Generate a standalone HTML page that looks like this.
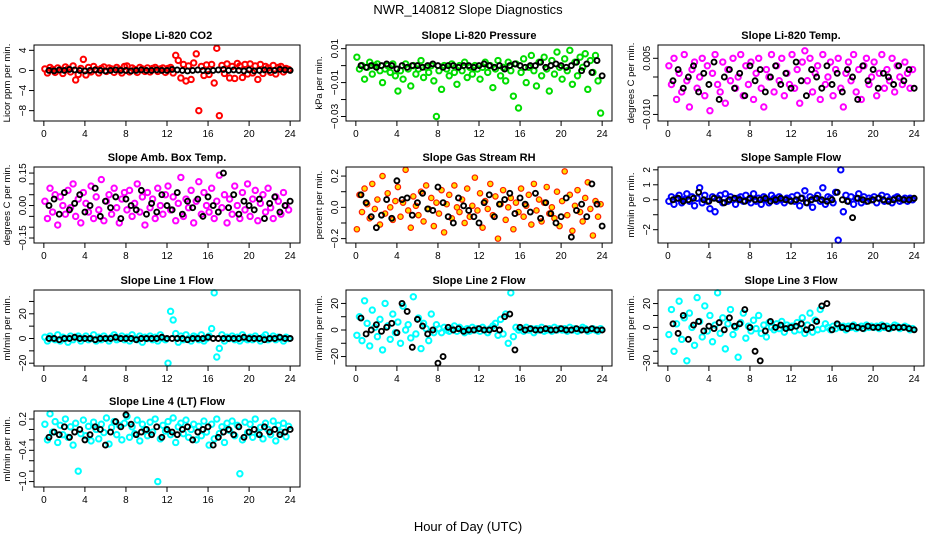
<!DOCTYPE html>
<html><head><meta charset="utf-8"><style>
body{margin:0;background:#fff;}
svg{display:block;font-family:"Liberation Sans",sans-serif;}
</style></head><body>
<svg id="c" width="936" height="540" xmlns="http://www.w3.org/2000/svg">
<text x="468" y="14" font-size="13" text-anchor="middle">NWR_140812  Slope Diagnostics</text>
<text x="468" y="531" font-size="13" text-anchor="middle">Hour of Day (UTC)</text>
</svg>
<script>
const xTicks=[0,4,8,12,16,20,24];
const titles=["Slope Li-820 CO2","Slope Li-820 Pressure","Slope Li-820 Temp.","Slope Amb. Box Temp.","Slope Gas Stream RH","Slope Sample Flow","Slope Line 1 Flow","Slope Line 2 Flow","Slope Line 3 Flow","Slope Line 4 (LT) Flow"];
const yLabels=["Licor ppm per min.","kPa per min.","degrees C per min.","degrees C per min.","percent per min.","ml/min per min.","ml/min per min.","ml/min per min.","ml/min per min.","ml/min per min."];
const yTicks=[[-8,-4,0,4],[-0.03,-0.02,-0.01,0,0.01],[-0.010,-0.005,0.000,0.005],[-0.15,-0.10,-0.05,0.00,0.05,0.10,0.15],[-0.2,-0.1,0,0.1,0.2],[-2,-1,0,1,2],[-20,-10,0,10,20,30],[-20,-10,0,10,20],[-30,-20,-10,0,10,20],[-1.0,-0.8,-0.6,-0.4,-0.2,0.0,0.2]];
const yTickLabels=[["−8","−4","0","4"],["−0.03","","−0.01","","0.01"],["−0.010","","","0.005"],["−0.15","","","0.00","","","0.15"],["−0.2","","0.0","","0.2"],["−2","","0","1","2"],["−20","","0","","20",""],["−20","","0","","20"],["−30","","","0","","20"],["−1.0","","","−0.4","","","0.2"]];
const yRange=[[-9.5,4.5],[-0.031,0.0105],[-0.011,0.0078],[-0.16,0.165],[-0.21,0.24],[-2.7,2.0],[-20,37],[-25,28],[-30,29],[-1.05,0.3]];
const colors=["#ff0000","#00dd00","#ff00ff","#ff00ff","#ff2000","#0000ff","#00ffff","#00ffff","#00ffff","#00ffff"];
const scaleC=[1,0.001,0.001,0.01,0.01,0.1,1,1,1,0.01];
const colored=[
[0.3,-0.5,0.6,0.2,-0.4,0.5,0.1,-0.6,0.7,0.3,-0.3,0.9,-1.9,-0.8,0.4,2.2,-0.9,0.6,-0.3,0.8,0.2,-0.5,0.4,0.7,-0.2,0.5,0.3,-0.4,0.6,0.2,-0.5,0.8,0.9,-0.3,0.5,0.2,-0.4,0.6,0.3,-0.2,0.5,-0.3,0.4,0.6,-0.2,0.3,0.5,-0.4,0.4,0.6,-0.5,3.0,2.0,-1.5,1.2,-2.1,0.9,-1.8,1.5,3.3,-8.0,0.8,-1.0,1.1,-0.8,1.2,-2.5,4.4,-9.0,1.0,-0.6,1.3,-1.5,0.8,-1.6,1.4,0.9,-1.4,1.2,-0.7,1.3,-0.5,0.9,-1.8,1.2,-0.6,0.8,0.5,-0.4,1.0,-0.7,0.6,0.8,-0.3,0.4,0.2],
[5,-2,0,-8,-1,2,-5,0,1,-3,-10,-2,0,-4,1,-6,-15,-3,-8,1,-2,-12,0,-5,-2,3,-7,-1,-4,0,-9,-30,-3,-14,0,-2,-6,1,-4,-11,0,-3,2,-7,-1,-5,0,-2,-8,-1,2,-4,0,-13,-2,3,-6,-1,-9,2,-3,-18,1,-25,-4,4,-10,-1,6,-3,-12,2,-6,5,-2,-15,3,-5,8,-1,-8,4,-3,9,-11,2,-6,5,-1,7,-14,3,-4,6,-9,-28],
[3,-2,5,-6,1,-4,6,-1,-8,2,4,-3,0,5,-5,3,-9,1,6,-2,-4,4,-7,2,-1,5,-3,0,6,-5,3,-2,4,-6,1,5,-3,-8,2,0,6,-4,3,-1,5,-5,1,-2,6,-3,2,-7,4,7,-1,5,-4,1,3,-6,6,-2,0,4,-5,2,5,-3,-8,1,4,-1,6,-4,2,-6,3,5,-2,0,4,-5,1,6,-3,2,-1,5,-4,3,0,-2,4,1,-3,2],
[2,-6,8,-3,5,-9,4,0,-4,7,-1,10,-5,3,-8,6,1,-3,9,-6,4,-2,12,-7,2,5,-4,8,-1,-8,3,6,-2,7,-5,1,10,-3,4,-9,6,-1,3,-6,8,0,-4,5,9,-2,4,-7,1,13,-5,3,-1,7,-8,2,11,-4,6,0,-3,8,-6,2,14,-1,5,-8,3,-4,9,0,-6,6,-2,10,-5,3,7,-7,1,5,-3,8,-1,-6,4,2,-4,6,0,-2],
[-14,8,-3,12,2,-7,15,-1,5,-11,20,-4,9,0,-8,4,13,-6,3,24,-2,-13,7,1,-5,10,-9,14,-1,6,-12,3,-4,11,-16,2,8,-7,14,0,-3,5,-10,12,-6,1,19,-2,9,-13,4,-1,15,-5,7,-20,2,11,-8,0,6,-14,3,-3,12,-6,1,8,-11,15,-2,5,-9,3,13,-4,0,-7,10,-12,4,23,-5,8,-15,1,11,-3,-9,6,16,-1,-18,4,-6,2],
[-1,2,-3,1,3,-2,0,4,-1,2,-4,1,8,-2,3,-1,-6,2,-8,1,3,-2,4,-1,2,0,-3,1,2,-1,3,0,-2,4,-1,1,-3,2,0,-2,3,1,-1,2,0,-2,1,0,2,-1,3,-4,1,6,-2,2,-5,1,3,-1,8,-3,2,1,-2,5,-27,20,-8,3,-1,2,-3,1,4,-2,2,-1,1,0,2,-2,1,3,-1,2,0,-2,1,2,-1,0,1,-1,1,0],
[1,-2,2,0,-1,3,-2,1,0,-3,2,-1,1,2,-2,0,2,-1,0,3,-2,1,-1,2,0,-2,1,3,-1,0,2,-1,1,-2,3,0,-1,2,-3,1,0,2,-1,1,-2,3,0,-1,-20,22,15,4,-3,2,-1,3,0,-2,2,1,-1,3,-2,0,2,8,37,-15,-8,3,-2,1,0,2,-1,1,-2,3,0,-1,1,-1,2,0,-2,1,3,-1,0,2,-1,1,0,-2,1,0],
[-4,10,-8,22,5,-12,15,2,-5,8,-15,20,3,-7,12,-2,6,-10,18,0,4,-6,25,-3,9,-14,5,1,-8,12,-2,4,1,-2,2,0,-1,1,3,-1,2,0,-2,1,-1,2,0,1,-1,2,0,-2,1,3,5,-4,8,-3,12,-10,28,-5,2,0,1,-1,2,0,1,-2,1,0,2,-1,0,1,-1,2,0,1,0,1,-1,2,0,1,-1,0,2,1,-1,0,1,0,-1,1],
[-6,15,-20,3,22,-10,8,-28,12,0,-15,25,5,-8,18,-3,10,-12,2,29,-5,8,-18,3,15,-6,0,-25,4,12,-9,1,-3,6,-1,10,-5,2,-8,4,0,-2,3,-1,5,-4,2,0,1,-3,4,-2,8,-5,2,12,-4,6,-2,15,-1,3,0,-2,1,-1,2,0,1,-2,1,0,2,-1,0,1,-1,2,0,1,0,1,-1,2,0,1,-1,0,2,1,-1,0,1,0,-2,-1],
[10,-20,30,-5,15,-25,8,-10,20,-15,5,-30,12,-80,-8,18,-12,6,-22,14,0,-18,10,-6,22,-28,4,15,-10,8,-20,12,25,-15,5,-8,18,-22,10,0,-12,14,-5,20,-100,-18,8,-3,15,-10,22,-25,5,12,-8,18,-15,0,10,-20,6,-12,16,-5,-30,10,-18,20,-8,5,-25,12,-2,16,-12,8,-85,-20,14,-6,10,-15,20,-8,4,-18,12,0,-10,16,-22,8,-5,12,-14,6]
];
const black=[
[0,-0.1,0.1,0,0.2,0.1,0,-0.1,0,0.1,0,-0.1,0,0.1,0,0,-0.1,0,0.1,0,0,0.1,0,0,0.2,0.1,0,-0.1,0,0.1,0,-0.1,0,0.1,0.2,0,0.1,0,-0.1,0.1,-0.1,0,0.1,0,0,0.2,0.1,0],
[0,-1,0,-1,0,1,0,-2,0,-1,0,0,-1,0,1,0,-1,0,0,-1,0,0,-1,0,1,0,-1,0,-2,0,1,0,-1,0,0,2,-1,0,1,0,-1,0,2,-3,1,-4,3,-6],
[-1,2,-3,0,3,-4,1,-2,4,-6,0,2,-3,1,-5,3,-1,2,-4,0,3,-2,1,-3,4,-1,-5,2,0,-3,3,-2,1,-4,2,0,-6,3,-1,2,-3,1,0,-2,3,-1,2,-3],
[0,3,-4,6,-2,1,5,-3,0,8,-5,2,-1,4,-6,3,0,-2,7,-4,1,-3,5,0,-2,6,-4,2,-1,3,-5,4,0,-3,15,-1,5,-4,2,0,-2,3,-6,1,4,-3,0,2],
[8,3,-6,-13,-5,5,-7,17,5,6,-5,3,9,-1,-2,13,3,-6,-10,6,1,-2,-6,-10,3,8,-6,2,5,9,-4,6,2,-3,9,-7,3,-4,-10,-6,6,-19,-2,2,-6,15,2,-12],
[0,1,-1,0,1,5,0,-1,1,0,-2,0,1,0,-1,1,0,0,1,-1,0,1,0,-1,0,1,-2,0,1,0,-1,0,5,0,-1,-12,1,0,-1,0,1,0,-1,0,1,0,0,1],
[0,0,-1,0,0,1,0,0,0,-1,0,0,0,1,0,0,0,-1,0,0,0,0,1,0,0,0,0,-1,0,0,0,1,0,0,0,0,0,0,1,0,0,0,-1,0,0,1,0,0],
[9,-3,0,4,-1,2,5,-2,20,14,-13,8,3,-3,0,-25,-20,2,0,1,-1,0,0,1,0,0,1,0,10,12,-15,2,0,1,0,0,1,0,0,1,0,0,1,0,0,1,0,0],
[3,-5,10,-10,2,5,-3,1,-1,4,-2,8,1,3,15,0,-20,-28,-3,5,0,2,-1,0,1,3,-2,0,5,18,20,-2,3,0,-1,1,0,-1,1,0,0,1,-1,0,0,0,-1,-2],
[-15,-5,-10,5,-15,-5,0,-20,-10,5,0,-30,-5,15,5,28,10,-10,-5,0,-10,5,-15,0,-5,-10,0,5,-20,-5,0,5,-30,-15,-5,0,-10,5,-15,-5,0,-10,5,-5,0,-10,-5,0]
];
const NS="http://www.w3.org/2000/svg";
const svg=document.getElementById('c');
const colL=[34,346,658], rowT=[45,167,290,411], W=266, H=76;
function mk(tag,attrs,parent){const e=document.createElementNS(NS,tag);for(const k in attrs)e.setAttribute(k,attrs[k]);parent.appendChild(e);return e;}
titles.forEach((t,p)=>{
  const L=colL[p%3], T=rowT[Math.floor(p/3)];
  const g=mk('g',{},svg);
  
  
  const [y0,y1]=yRange[p]; const yp=(y1-y0)*0.04;
  const X=v=>L+(v+0.96)/25.92*W;
  const Y=v=>T+H-(v-(y0-yp))/((y1-y0)*1.08)*H;
  const tt=mk('text',{x:L+W/2,y:T-6,'font-size':11,'font-weight':'bold','text-anchor':'middle'},g);tt.textContent=t;
  
  
  const yl=mk('text',{x:0,y:0,'font-size':9.5,'text-anchor':'middle',transform:`translate(${L-24},${T+H/2}) rotate(-90)`},g);yl.textContent=yLabels[p];
  
  
  const sc=scaleC[p], col=colors[p];
  colored[p].forEach((v,i)=>{
    const c=mk('circle',{cx:X(i*0.25+0.1),cy:Y(v*sc),r:2.7,fill:p==4?'#ffdd00':'none',stroke:col,'stroke-width':p==4?1.2:2},g);
    
    
  });
  black[p].forEach((v,i)=>{
    const c=mk('circle',{cx:X(i*0.5+0.5),cy:Y(v*sc),r:2.5,fill:'none',stroke:'#000','stroke-width':1.9},g);
    
    
  });
  const box=mk('rect',{x:L,y:T,width:W,height:H,fill:'none',stroke:'#000','stroke-width':1},g);
  
  
  xTicks.forEach(v=>{
    mk('line',{x1:X(v),x2:X(v),y1:T+H,y2:T+H+5,stroke:'#000'},g);
    const tx=mk('text',{x:X(v),y:T+H+16,'font-size':10,'text-anchor':'middle'},g);tx.textContent=v;
    
    
  });
  yTicks[p].forEach((v,i)=>{
    const yy=Y(v); if(yy<T-1||yy>T+H+1)return;
    mk('line',{x1:L-5,x2:L,y1:yy,y2:yy,stroke:'#000'},g);
    const tx=mk('text',{x:0,y:0,'font-size':10,'text-anchor':'middle',transform:`translate(${L-8},${yy}) rotate(-90)`},g);tx.textContent=yTickLabels[p][i];
    
    
  });
});
</script>
</body></html>
